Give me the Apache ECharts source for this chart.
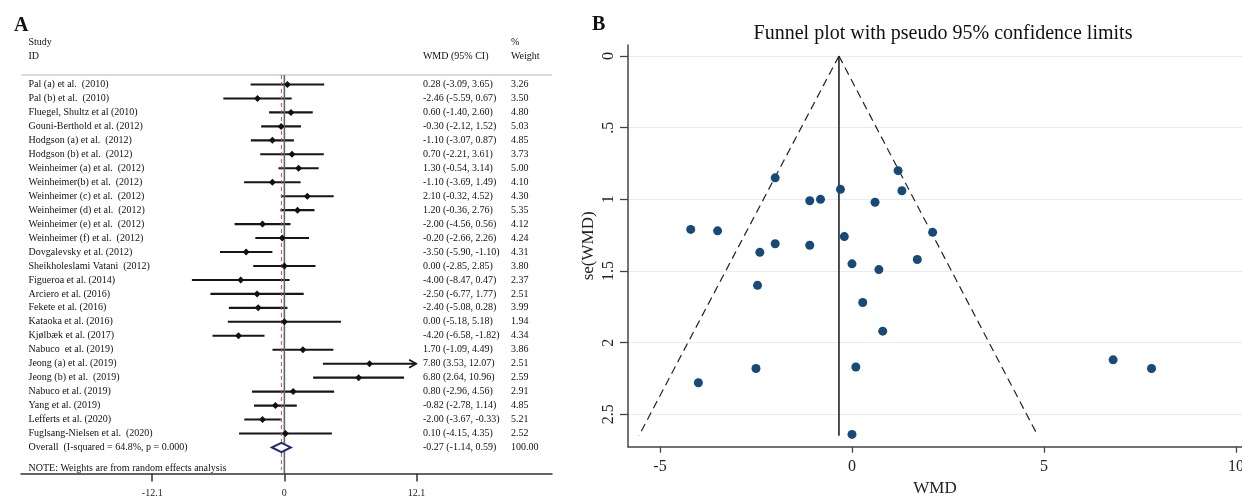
<!DOCTYPE html>
<html>
<head>
<meta charset="utf-8">
<script src="https://cdn.jsdelivr.net/npm/echarts@6/dist/echarts.min.js"></script>
<style>
  html, body { margin: 0; padding: 0; background: #fff; }
  #chart { width: 1242px; height: 497px; }
</style>
</head>
<body>
<div id="chart"></div>
<script>
var serif = "'Liberation Serif', 'Times New Roman', serif";

// forest plot data (panel A)
var studies = ['Pal (a) et al.  (2010)', 'Pal (b) et al.  (2010)', 'Fluegel, Shultz et al (2010)',
  'Gouni-Berthold et al. (2012)', 'Hodgson (a) et al.  (2012)', 'Hodgson (b) et al.  (2012)',
  'Weinheimer (a) et al.  (2012)', 'Weinheimer(b) et al.  (2012)', 'Weinheimer (c) et al.  (2012)',
  'Weinheimer (d) et al.  (2012)', 'Weinheimer (e) et al.  (2012)', 'Weinheimer (f) et al.  (2012)',
  'Dovgalevsky et al. (2012)', 'Sheikholeslami Vatani  (2012)', 'Figueroa et al. (2014)',
  'Arciero et al. (2016)', 'Fekete et al. (2016)', 'Kataoka et al. (2016)', 'Kjølbæk et al. (2017)',
  'Nabuco  et al. (2019)', 'Jeong (a) et al. (2019)', 'Jeong (b) et al.  (2019)', 'Nabuco et al. (2019)',
  'Yang et al. (2019)', 'Lefferts et al. (2020)', 'Fuglsang-Nielsen et al.  (2020)'];
var wmd = [0.28, -2.46, 0.60, -0.30, -1.10, 0.70, 1.30, -1.10, 2.10, 1.20, -2.00, -0.20, -3.50,
  0.00, -4.00, -2.50, -2.40, 0.00, -4.20, 1.70, 7.80, 6.80, 0.80, -0.82, -2.00, 0.10];
var ciLow = [-3.09, -5.59, -1.40, -2.12, -3.07, -2.21, -0.54, -3.69, -0.32, -0.36, -4.56, -2.66, -5.90,
  -2.85, -8.47, -6.77, -5.08, -5.18, -6.58, -1.09, 3.53, 2.64, -2.96, -2.78, -3.67, -4.15];
var ciHigh = [3.65, 0.67, 2.60, 1.52, 0.87, 3.61, 3.14, 1.49, 4.52, 2.76, 0.56, 2.26, -1.10,
  2.85, 0.47, 1.77, 0.28, 5.18, -1.82, 4.49, 12.07, 10.96, 4.56, 1.14, -0.33, 4.35];
var weights = ['3.26', '3.50', '4.80', '5.03', '4.85', '3.73', '5.00', '4.10', '4.30', '5.35', '4.12', '4.24',
  '4.31', '3.80', '2.37', '2.51', '3.99', '1.94', '4.34', '3.86', '2.51', '2.59', '2.91', '4.85', '5.21', '2.52'];
var overallLabel = 'Overall  (I-squared = 64.8%, p = 0.000)';
var overallCI = [-0.27, -1.14, 0.59];
var overallWeight = '100.00';
var forestTicks = [-12.1, 0, 12.1];

// funnel plot data (panel B)
var seWmd = [1.72, 1.60, 1.02, 0.93, 1.01, 1.49, 0.94, 1.32, 1.23, 0.80, 1.31, 1.26, 1.22,
  1.45, 2.28, 2.18, 1.37, 2.64, 1.21, 1.42, 2.18, 2.12, 1.92, 1.00, 0.85, 2.17];
var funnelLeft = [[-0.34, 0], [-5.55, 2.65]];
var funnelRight = [[-0.34, 0], [4.84, 2.65]];
var funnelMid = [[-0.34, 0], [-0.34, 2.65]];
var funnelXTicks = [-5, 0, 5, 10];
var funnelYTicks = [0, 0.5, 1, 1.5, 2, 2.5];

// text columns of the forest plot, in axis units
var colStudy = -23.43, colCI = 12.69, colWeight = 20.75;
var overallRow = studies.length;

function fmt(v) { return v.toFixed(2); }

var forestTexts = [
  [colStudy, -3, 'Study'], [colStudy, -2, 'ID'],
  [colCI, -2, 'WMD (95% CI)'],
  [colWeight, -3, '%'], [colWeight, -2, 'Weight']
];
studies.forEach(function (s, i) {
  forestTexts.push([colStudy, i, s]);
  forestTexts.push([colCI, i, fmt(wmd[i]) + ' (' + fmt(ciLow[i]) + ', ' + fmt(ciHigh[i]) + ')']);
  forestTexts.push([colWeight, i, weights[i]]);
});
forestTexts.push([colStudy, overallRow, overallLabel]);
forestTexts.push([colCI, overallRow, fmt(overallCI[0]) + ' (' + fmt(overallCI[1]) + ', ' + fmt(overallCI[2]) + ')']);
forestTexts.push([colWeight, overallRow, overallWeight]);
forestTexts.push([colStudy, overallRow + 1.47, 'NOTE: Weights are from random effects analysis']);

var chart = echarts.init(document.getElementById('chart'));

var option = {
  backgroundColor: '#fff',
  animation: false,
  title: [
    { text: 'A', left: 9, top: 11, textStyle: { fontFamily: serif, fontSize: 20, fontWeight: 'bold', color: '#111' } },
    { text: 'B', left: 587, top: 10, textStyle: { fontFamily: serif, fontSize: 20, fontWeight: 'bold', color: '#111' } },
    { text: 'Funnel plot with pseudo 95% confidence limits', left: 938, top: 19, textAlign: 'center',
      textStyle: { fontFamily: serif, fontSize: 20, fontWeight: 'normal', color: '#111' } }
  ],
  grid: [
    { left: 21, width: 531, top: 28.66, height: 444.84, outerBoundsMode: 'none' },
    { left: 628, width: 614, top: 45, height: 401.7, outerBoundsMode: 'none' }
  ],
  xAxis: [
    {
      gridIndex: 0, type: 'value', min: -24.12, max: 24.51,
      splitLine: { show: false },
      axisLine: { show: true, onZero: false, lineStyle: { color: '#333', width: 1.5 } },
      axisTick: { show: true, customValues: forestTicks, length: 8, lineStyle: { color: '#333', width: 1.5 } },
      axisLabel: { customValues: forestTicks, margin: 15, fontSize: 10, fontFamily: serif, color: '#222',
        formatter: function (v) { return String(v); } }
    },
    {
      gridIndex: 1, type: 'value', min: -5.833, max: 10.156,
      splitLine: { show: false },
      axisLine: { show: true, onZero: false, lineStyle: { color: '#444', width: 1.5 } },
      axisTick: { show: true, customValues: funnelXTicks, length: 6, lineStyle: { color: '#444', width: 1.3 } },
      axisLabel: { customValues: funnelXTicks, margin: 12, fontSize: 16, fontFamily: serif, color: '#222',
        formatter: function (v) { return String(v); } },
      name: 'WMD', nameLocation: 'middle', nameGap: 31,
      nameTextStyle: { fontSize: 17, fontFamily: serif, color: '#222' }
    }
  ],
  yAxis: [
    { gridIndex: 0, type: 'value', min: -4, max: 27.865, inverse: true, show: false },
    {
      gridIndex: 1, type: 'value', min: -0.077, max: 2.726, inverse: true,
      axisLine: { show: true, onZero: false, lineStyle: { color: '#444', width: 1.5 } },
      axisTick: { show: true, customValues: funnelYTicks, length: 8, lineStyle: { color: '#444', width: 1.3 } },
      axisLabel: { customValues: funnelYTicks, rotate: 90, margin: 11, fontSize: 16, fontFamily: serif, color: '#222',
        formatter: function (v) { return String(v).replace(/^0\./, '.'); } },
      splitLine: { show: true, lineStyle: { color: '#e3edf2', width: 1.2 } },
      name: 'se(WMD)', nameLocation: 'middle', nameGap: 31, nameRotate: 90,
      nameTextStyle: { fontSize: 17, fontFamily: serif, color: '#222' }
    }
  ],
  series: [
    // header rule
    { type: 'line', xAxisIndex: 0, yAxisIndex: 0, data: [[-24.12, -0.68], [24.51, -0.68]],
      showSymbol: false, silent: true, lineStyle: { color: '#cfcfcf', width: 1.5 } },
    // no-effect line
    { type: 'line', xAxisIndex: 0, yAxisIndex: 0, data: [[0, -0.68], [0, 27.865]],
      showSymbol: false, silent: true, lineStyle: { color: '#666', width: 1.6 } },
    // overall effect line
    { type: 'line', xAxisIndex: 0, yAxisIndex: 0, data: [[overallCI[0], -0.68], [overallCI[0], 27.6]],
      showSymbol: false, silent: true, lineStyle: { color: '#b5566c', width: 1, type: [4, 3] } },
    // confidence intervals
    {
      type: 'custom', xAxisIndex: 0, yAxisIndex: 0, silent: true,
      data: studies.map(function (s, i) { return [ciLow[i], ciHigh[i], i]; }),
      encode: { x: [0, 1], y: 2 },
      renderItem: function (params, api) {
        var row = api.value(2);
        var a = api.coord([api.value(0), row]);
        var b = api.coord([api.value(1), row]);
        var kids = [{ type: 'line', shape: { x1: a[0], y1: a[1], x2: b[0], y2: b[1] },
          style: { stroke: '#161616', lineWidth: 2.1 } }];
        if (api.value(1) > 12) {
          kids.push({ type: 'polyline', shape: { points: [[b[0] - 7, b[1] - 4], [b[0], b[1]], [b[0] - 7, b[1] + 4]] },
            style: { stroke: '#161616', lineWidth: 1.7, fill: null } });
        }
        return { type: 'group', children: kids };
      }
    },
    // point estimates
    { type: 'scatter', xAxisIndex: 0, yAxisIndex: 0, symbol: 'diamond', symbolSize: 7, silent: true,
      itemStyle: { color: '#111', opacity: 1 }, z: 4,
      data: studies.map(function (s, i) { return [wmd[i], i]; }) },
    // overall diamond
    {
      type: 'custom', xAxisIndex: 0, yAxisIndex: 0, silent: true, z: 4,
      data: [[overallCI[0], overallCI[1], overallCI[2], overallRow]],
      encode: { x: [0, 1, 2], y: 3 },
      renderItem: function (params, api) {
        var r = api.value(3);
        var pts = [api.coord([api.value(1), r]), api.coord([api.value(0), r - 0.33]),
          api.coord([api.value(2), r]), api.coord([api.value(0), r + 0.33])];
        return { type: 'polygon', shape: { points: pts }, style: { stroke: '#1d2a80', lineWidth: 2, fill: '#fff' } };
      }
    },
    // text columns
    {
      type: 'custom', xAxisIndex: 0, yAxisIndex: 0, silent: true, z: 5,
      data: forestTexts.map(function (t) { return [t[0], t[1]]; }),
      renderItem: function (params, api) {
        var t = forestTexts[params.dataIndex];
        var p = api.coord([t[0], t[1]]);
        return { type: 'text', x: p[0], y: p[1],
          style: { text: t[2], fontSize: 10, fontFamily: serif, fill: '#111', align: 'left', verticalAlign: 'middle' } };
      }
    },
    // funnel limits
    { type: 'line', xAxisIndex: 1, yAxisIndex: 1, data: funnelLeft, showSymbol: false, silent: true,
      lineStyle: { color: '#222', width: 1.2, type: [8, 5] } },
    { type: 'line', xAxisIndex: 1, yAxisIndex: 1, data: funnelRight, showSymbol: false, silent: true,
      lineStyle: { color: '#222', width: 1.2, type: [8, 5] } },
    { type: 'line', xAxisIndex: 1, yAxisIndex: 1, data: funnelMid, showSymbol: false, silent: true,
      lineStyle: { color: '#222', width: 1.6 } },
    // studies
    { type: 'scatter', xAxisIndex: 1, yAxisIndex: 1, symbolSize: 9, silent: true,
      itemStyle: { color: '#174a79', opacity: 1 }, z: 4,
      data: wmd.map(function (w, i) { return [w, seWmd[i]]; }) }
  ]
};

chart.setOption(option);
</script>
</body>
</html>
